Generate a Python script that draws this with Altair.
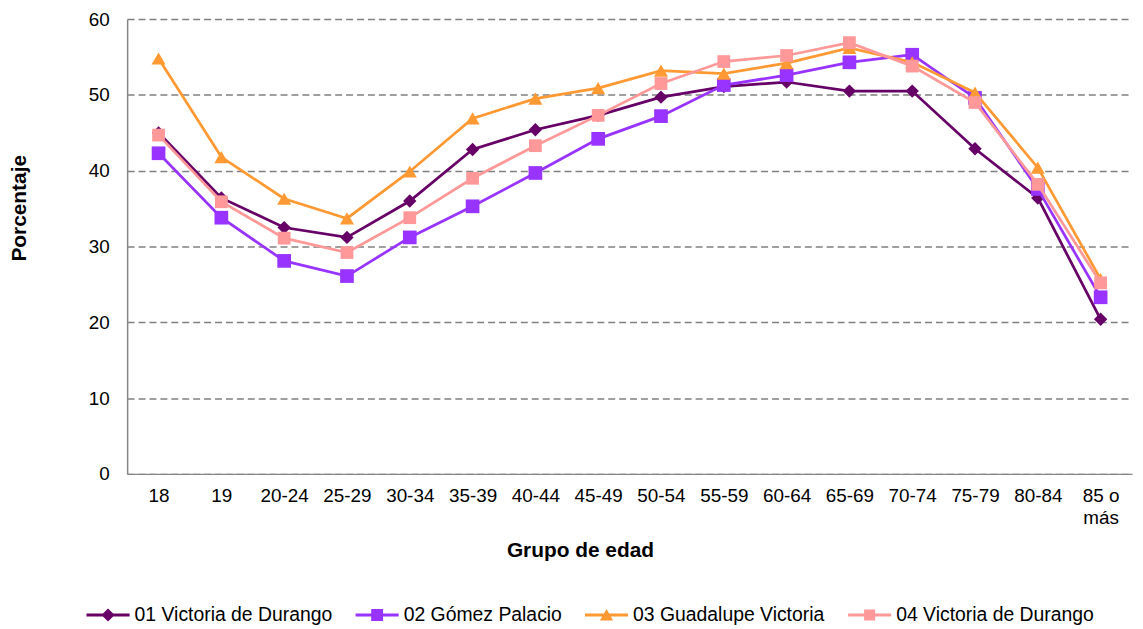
import altair as alt
import pandas as pd

categorias = ["18", "19", "20-24", "25-29", "30-34", "35-39", "40-44", "45-49",
              "50-54", "55-59", "60-64", "65-69", "70-74", "75-79", "80-84", "85 o más"]

serie_01 = [45.0, 36.4, 32.5, 31.2, 36.0, 42.8, 45.4, 47.3, 49.7, 51.1, 51.7, 50.5, 50.5, 42.9, 36.4, 20.4]
serie_02 = [42.3, 33.8, 28.1, 26.1, 31.2, 35.3, 39.7, 44.2, 47.2, 51.3, 52.6, 54.3, 55.3, 49.6, 37.6, 23.3]
serie_03 = [54.8, 41.8, 36.3, 33.7, 39.9, 46.9, 49.5, 50.9, 53.2, 52.8, 54.2, 56.2, 54.3, 50.3, 40.4, 25.7]
serie_04 = [44.7, 35.9, 31.1, 29.2, 33.8, 39.0, 43.3, 47.3, 51.5, 54.4, 55.2, 56.9, 53.8, 49.0, 38.2, 25.2]

nombres = ["01 Victoria de Durango", "02 Gómez Palacio", "03 Guadalupe Victoria", "04 Victoria de Durango"]
colores = ["#660066", "#9933FF", "#FF9933", "#FF9999"]
formas = ["diamond", "square", "triangle-up", "square"]
tamanos = [180, 190, 200, 165]

LINEA = "M-3.1,-0.2H3.1V0.2H-3.1Z "
formas_leyenda = [
    LINEA + "M0,-0.95L0.95,0L0,0.95L-0.95,0Z",
    LINEA + "M-0.85,-0.85H0.85V0.85H-0.85Z",
    LINEA + "M0,-0.85L0.95,0.8H-0.95Z",
    LINEA + "M-0.8,-0.8H0.8V0.8H-0.8Z",
]

series = [serie_01, serie_02, serie_03, serie_04]
filas = []
for nombre, valores in zip(nombres, series):
    for cat, v in zip(categorias, valores):
        filas.append({"serie": nombre, "grupo": cat, "valor": v})
df = pd.DataFrame(filas)

FONT = "Liberation Sans"

x_enc = alt.X(
    "grupo:N",
    scale=alt.Scale(type="point", domain=categorias, padding=0.5),
    axis=alt.Axis(
        title="Grupo de edad",
        titleFont=FONT, titleFontSize=21, titleFontWeight="bold", titleColor="#000000",
        titleX=456, titleY=77, titleAlign="center", titleBaseline="middle", titleAngle=0,
        labelFont=FONT, labelFontSize=19, labelColor="#000000", labelAngle=0,
        labelPadding=13, labelLineHeight=22,
        labelExpr="datum.value == '85 o más' ? ['85 o', 'más'] : datum.label",
        ticks=False, tickSize=0, grid=False,
        domainColor="#868686", domainWidth=1.5,
    ),
)
y_enc = alt.Y(
    "valor:Q",
    scale=alt.Scale(domain=[0, 60], nice=False, zero=True),
    axis=alt.Axis(
        title="Porcentaje",
        titleFont=FONT, titleFontSize=21, titleFontWeight="bold", titleColor="#000000",
        titleX=-108, titleY=190, titleAngle=-90, titleAlign="center", titleBaseline="middle",
        values=[0, 10, 20, 30, 40, 50, 60],
        labelFont=FONT, labelFontSize=19, labelColor="#000000", labelPadding=18,
        ticks=False, tickSize=0,
        grid=True, gridColor="#808080", gridDash=[7, 4], gridWidth=1.5,
        domainColor="#868686", domainWidth=1.5,
    ),
)
color_scale = alt.Scale(domain=nombres, range=colores)

base = alt.Chart(df)

leyenda = alt.Legend(
    title=None, orient="none", legendX=-29, legendY=590,
    direction="horizontal", columns=4, columnPadding=23,
    labelFont=FONT, labelFontSize=19.5, labelColor="#000000", labelOffset=17,
    labelLimit=500,
    symbolSize=196, symbolStrokeWidth=0, symbolOpacity=1, padding=0,
)
# invisible layer that only carries the legend (line + marker symbols)
capa_leyenda = base.mark_point(filled=True, opacity=0).encode(
    x=x_enc, y=y_enc,
    color=alt.Color("serie:N", scale=color_scale, legend=leyenda),
    shape=alt.Shape("serie:N", scale=alt.Scale(domain=nombres, range=formas_leyenda), legend=leyenda),
)

capas = [capa_leyenda]
for i, nombre in enumerate(nombres):
    sub = base.transform_filter(alt.datum.serie == nombre)
    capas.append(
        sub.mark_line(strokeWidth=2.75).encode(
            x=x_enc, y=y_enc,
            color=alt.Color("serie:N", scale=color_scale, legend=None),
        )
    )
    capas.append(
        sub.mark_point(filled=True, opacity=1, size=tamanos[i], shape=formas[i], strokeWidth=0).encode(
            x=x_enc, y=y_enc,
            color=alt.Color("serie:N", scale=color_scale, legend=None),
        )
    )

chart = alt.layer(*capas).properties(
    width=1012, height=458,
    autosize=alt.AutoSizeParams(type="none"),
    padding={"left": 120, "top": 9, "right": 3, "bottom": 150},
    background="white",
).configure_view(strokeWidth=0)

chart.save("out.html", embed_options={"renderer": "svg", "actions": False})
